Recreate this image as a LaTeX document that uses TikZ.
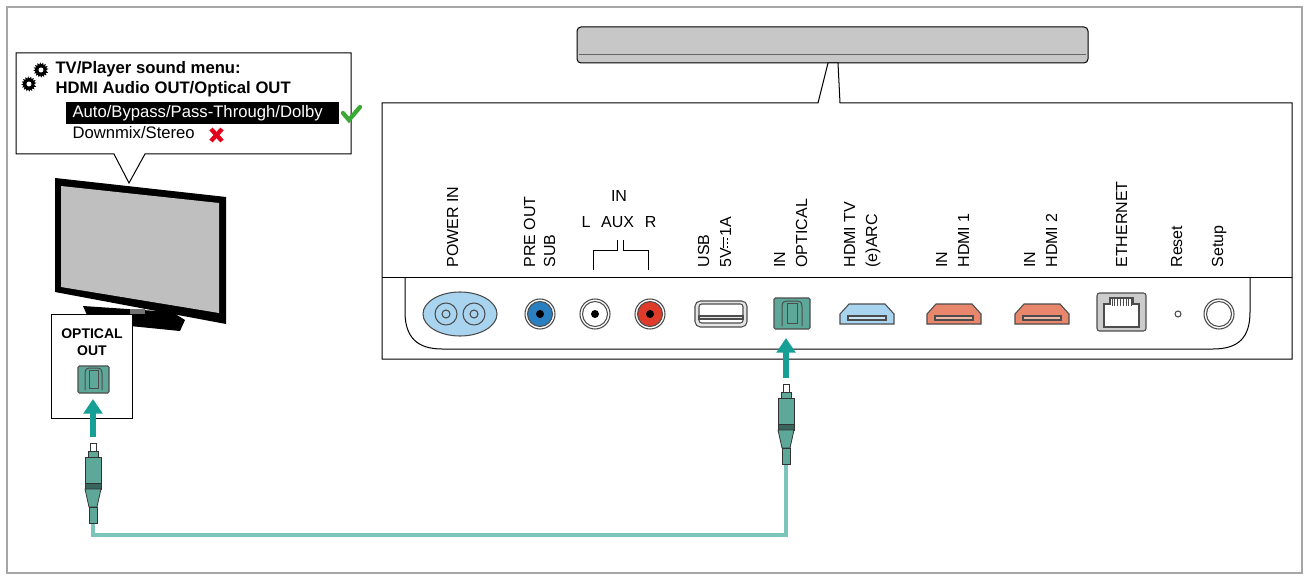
\documentclass[tikz,border=0pt]{standalone}
\usepackage{fontspec}
\setmainfont{Liberation Sans}
\usetikzlibrary{arrows.meta}
\definecolor{teal1}{HTML}{16A095}
\definecolor{cablec}{HTML}{7CC4BC}
\definecolor{plugc}{HTML}{5EA89A}
\definecolor{lblue}{HTML}{A9D4F0}
\definecolor{dblue}{HTML}{2A7FC1}
\definecolor{rred}{HTML}{DE3B2A}
\definecolor{salmon}{HTML}{E8876B}
\definecolor{okgreen}{HTML}{3AAA35}
\definecolor{badred}{HTML}{E2001A}
\tikzset{every picture/.style={line width=0.75pt}}
\tikzset{
  lbl/.style={rotate=90,anchor=base west,inner sep=0pt,font=\fontsize{12}{14}\selectfont},
  port/.style={draw=black!70,line width=0.8pt},
  plug/.style={draw=black!80,fill=plugc,line width=0.6pt},
  push/.style={draw=teal1,line width=4pt,-{Triangle[length=11pt,width=14pt]}},
}
\newcommand{\gearicon}[3]{% x, y, radius
  \fill[black] plot[sharp cycle,samples=33,domain=0:352,variable=\t]
    ({#1+(#3+0.4*#3*(mod(int(\t/11.25),2)))*cos(\t)},{#2+(#3+0.4*#3*(mod(int(\t/11.25),2)))*sin(\t)});
  \fill[white] (#1,#2) circle ({0.45*#3});}
\newcommand{\dcsym}{\tikz[baseline=0pt,x=1pt,y=1pt,line width=0.6pt]{\draw (0,5.5) -- (8,5.5); \draw[dash pattern=on 1.6pt off 1.2pt] (0,2.5) -- (8,2.5);}}
\newcommand{\optplug}[2]{% x, tip y
  \draw[plug,fill=white] (#1-3,#2) rectangle (#1+3,#2+8);
  \draw[plug] (#1-5,#2+8) rectangle (#1+5,#2+14);
  \draw[plug] (#1-8,#2+14) rectangle (#1+8,#2+40);
  \draw[plug,fill=plugc!60!black] (#1-8,#2+40) rectangle (#1+8,#2+46);
  \draw[plug] (#1-8,#2+46) -- (#1+8,#2+46) -- (#1+4,#2+64) -- (#1-4,#2+64) -- cycle;
  \draw[plug] (#1-4,#2+64) rectangle (#1+4,#2+80);}

\begin{document}
\begin{tikzpicture}[x=0.75pt,y=0.75pt,yscale=-1,xscale=1]
\useasboundingbox (0,0) rectangle (1309,581);
% frame
\draw[black!35,line width=2.2pt] (7,7) rectangle (1302,573);

% speech bubble
\draw[fill=white] (16,53) -- (351,53) -- (351,154) -- (145,154) -- (129,183) -- (114,154) -- (16,154) -- cycle;
\gearicon{29}{84}{5.5}
\gearicon{41}{70}{5.5}
\node[anchor=base west,inner sep=0pt,font=\fontsize{12.5}{14}\selectfont\bfseries] (menu1) at (55,74) {TV/Player sound menu:};
\node[anchor=base west,inner sep=0pt,font=\fontsize{12.5}{14}\selectfont\bfseries] (menu2) at (55,94) {HDMI Audio OUT/Optical OUT};
\fill[black] (66,102) rectangle (339,124);
\node[anchor=base west,inner sep=0pt,text=white,font=\fontsize{12.5}{14}\selectfont] (opt1) at (72,118) {Auto/Bypass/Pass-Through/Dolby};
\node[anchor=base west,inner sep=0pt,font=\fontsize{12.5}{14}\selectfont] (opt2) at (72,139) {Downmix/Stereo};
\draw[okgreen,line width=3.2pt,line cap=round] (343,113) -- (349,120) -- (360,107);
\draw[badred,line width=3.2pt] (211,129) -- (222,141) (222,129) -- (211,141);

% TV
\fill[black] (83,306) -- (172,312) -- (185,320) -- (180,331) -- (90,322) -- cycle;
\fill[black!55] (130,309) rectangle (145,314);
\fill[black] (55,178) -- (226,197) -- (226,324) -- (55,292) -- cycle;
\fill[black!25] (61,186) -- (219,203) -- (219,313) -- (61,287) -- cycle;

% optical out box
\draw[fill=white] (51,314) rectangle (132,418);
\node[font=\fontsize{10.5}{13}\selectfont\bfseries,align=center,inner sep=0pt] (optout) at (92,342) {OPTICAL\\OUT};
\draw[port,fill=plugc,rounded corners=1pt] (78,366) rectangle (109,393);
\draw[black!70] (85,390) -- (85,374) .. controls (85,369) and (87,368) .. (89,368) -- (98,368) .. controls (100,368) and (102,369) .. (102,374) -- (102,390);
\draw[black!70] (89,370) rectangle (98,388);

% soundbar
\draw[fill=black!22,rounded corners=3pt] (577,27) rectangle (1088,63);
\draw[black!60] (579,55) -- (1086,55);
\draw[fill=white] (382,103) -- (818,103) -- (828,63) -- (838,63) -- (840,103) -- (1292,103) -- (1292,359) -- (382,359) -- cycle;
\draw (382,277) -- (1292,277);
\draw (405,277) -- (405,312) .. controls (405,338) and (418,349) .. (442,349) -- (1213,349) .. controls (1238,349) and (1250,338) .. (1250,312) -- (1250,277);

% labels
\node[lbl] (lpow) at (458,268) {POWER IN};
\node[lbl] (lpre) at (535,268) {PRE OUT};
\node[lbl] (lsub) at (555,268) {SUB};
\node[font=\fontsize{12}{14}\selectfont,inner sep=0pt] (lin) at (619,196) {IN};
\node[font=\fontsize{12}{14}\selectfont,inner sep=0pt] (laux) at (619,222) {L\hspace{8pt}AUX\hspace{8pt}R};
\draw (593,270) -- (593,250) -- (617,250) -- (617,240);
\draw (623,240) -- (623,250) -- (648,250) -- (648,270);
\node[lbl] (lusb) at (709,268) {USB};
\node[lbl] (lfive) at (731,268) {5V\dcsym1A};
\node[lbl] (linopt) at (785,268) {IN};
\node[lbl] (lopt) at (807,268) {OPTICAL};
\node[lbl] (lhtv) at (855,268) {HDMI TV};
\node[lbl] (larc) at (877,268) {(e)ARC};
\node[lbl] (lin1) at (947,268) {IN};
\node[lbl] (lh1) at (969,268) {HDMI 1};
\node[lbl] (lin2) at (1035,268) {IN};
\node[lbl] (lh2) at (1057,268) {HDMI 2};
\node[lbl] (leth) at (1127,268) {ETHERNET};
\node[lbl] (lres) at (1182,268) {Reset};
\node[lbl] (lset) at (1223,268) {Setup};

% ports
\draw[port,fill=lblue] (460,314) ellipse (37 and 22);
\foreach \px in {446,474} {\draw[port] (\px,314) circle (11); \draw[port] (\px,314) circle (4);}
\foreach \px/\pc in {540/dblue,595/white,650/rred} {
  \draw[port] (\px,314) circle (15);
  \draw[port,fill=\pc] (\px,314) circle (12.5);
  \fill[black] (\px,314) circle (4);}
\draw[port,fill=black!10,rounded corners=4pt] (695,301) rectangle (747,327);
\draw[port,fill=white,rounded corners=2pt] (699,304) rectangle (743,323);
\draw[port,fill=black!10] (699,316) rectangle (743,319);
\draw[port,fill=plugc,rounded corners=1pt] (774,298) rectangle (810,329);
\draw[black!70] (782,326) -- (782,307) .. controls (782,302) and (784,301) .. (787,301) -- (797,301) .. controls (800,301) and (802,302) .. (802,307) -- (802,326);
\draw[black!70] (787,303) rectangle (797,323);
\foreach \hx/\hc in {840/lblue,927/salmon,1015/salmon} {
  \draw[port,fill=\hc] (\hx,324) -- (\hx,314) -- (\hx+9,304) -- (\hx+45,304) -- (\hx+54,314) -- (\hx+54,324) -- cycle;
  \draw[port,fill=\hc!60] (\hx+8,316) rectangle (\hx+46,320);}
\draw[port,fill=black!20,rounded corners=2pt] (1097,293) rectangle (1146,331);
\draw[port,fill=white] (1104,327) -- (1104,304) -- (1110,304) -- (1110,298) -- (1133,298) -- (1133,304) -- (1139,304) -- (1139,327) -- cycle;
\foreach \k in {0,...,7} \draw[black!70,line width=0.6pt] (1112+\k*2.8,298) -- (1112+\k*2.8,306);
\draw[port] (1178,314) circle (3);
\draw[port] (1219,314) circle (15);
\draw[port] (1219,314) circle (12.5);

% cable and plugs
\draw[cablec,line width=2.5pt] (93,510) -- (93,535) -- (786,535) -- (786,462);
\optplug{93}{443}
\optplug{786}{384}
\draw[push] (93,437) -- (93,399);
\draw[push] (786,378) -- (786,338);
\end{tikzpicture}
\end{document}
